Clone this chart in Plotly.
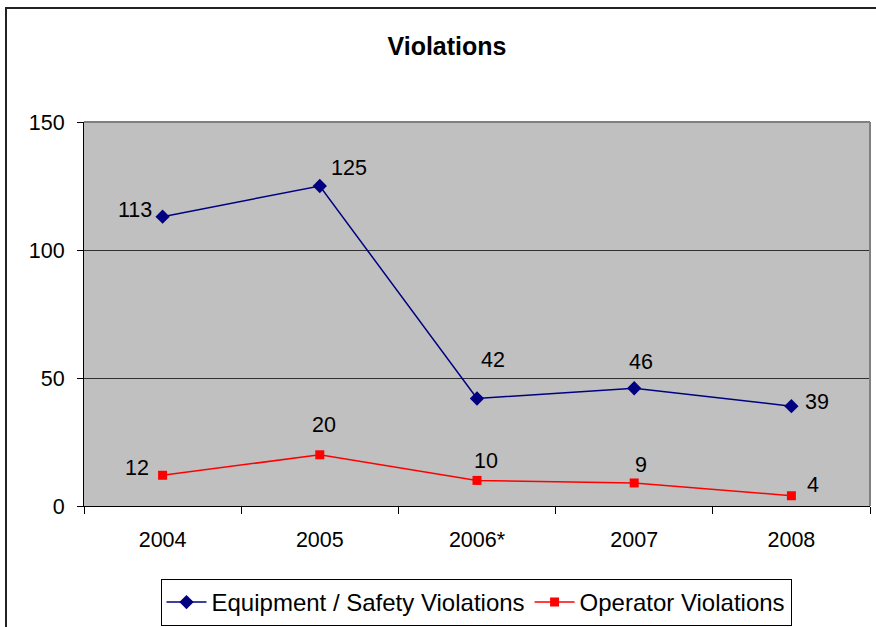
import plotly.graph_objects as go

# Chart data
years = ["2004", "2005", "2006*", "2007", "2008"]
equipment = [113, 125, 42, 46, 39]
operator = [12, 20, 10, 9, 4]
y_ticks = [0, 50, 100, 150]

# Per-point label offsets in pixels (dx, dy)
equip_label_shift = [(-28, 7), (29, 18), (16, 38), (7, 26), (26, 4)]
oper_label_shift = [(-26, 7), (4, 30), (9, 19), (7, 18), (22, 11)]

font_family = "Liberation Sans, Arial, sans-serif"

fig = go.Figure()
fig.add_trace(go.Scatter(
    x=years, y=equipment, name="Equipment / Safety Violations",
    mode="lines+markers",
    line=dict(color="#000080", width=1.5),
    marker=dict(symbol="diamond", size=11, color="#000080"),
))
fig.add_trace(go.Scatter(
    x=years, y=operator, name="Operator Violations",
    mode="lines+markers",
    line=dict(color="#FF0000", width=1.5),
    marker=dict(symbol="square", size=9, color="#FF0000"),
))

annotations = []
for series, shifts in ((equipment, equip_label_shift), (operator, oper_label_shift)):
    for i, (v, (dx, dy)) in enumerate(zip(series, shifts)):
        annotations.append(dict(
            x=i, y=v, text=str(v), showarrow=False,
            xshift=dx, yshift=dy,
            font=dict(size=21.5, color="black", family=font_family),
        ))

fig.update_layout(
    width=876, height=627,
    margin=dict(l=84, r=6, t=122, b=121, autoexpand=False),
    paper_bgcolor="white",
    plot_bgcolor="#C0C0C0",
    font=dict(family=font_family, color="black"),
    title=dict(text="<b>Violations</b>", x=(447 - 84) / 786, xref="paper", xanchor="center",
               y=1 - 46 / 627, yanchor="middle",
               font=dict(size=25, color="black", family=font_family)),
    showlegend=True,
    legend=dict(
        orientation="h", xref="paper", yref="paper",
        x=(476 - 84) / 786, xanchor="center",
        y=(506 - 579) / 384, yanchor="top",
        bordercolor="black", borderwidth=1, bgcolor="white",
        font=dict(size=24, color="black", family=font_family),
        itemwidth=40,
    ),
    annotations=annotations,
    xaxis=dict(
        type="category", range=[-0.5, 4.5],
        tickson="boundaries", ticks="outside", ticklen=7, tickcolor="black",
        showline=True, linecolor="black", linewidth=1,
        showgrid=False, zeroline=False, automargin=False,
        ticklabelstandoff=14,
        tickfont=dict(size=21.5, color="black", family=font_family),
        fixedrange=True,
    ),
    yaxis=dict(
        range=[0, 150], tickvals=y_ticks,
        ticks="outside", ticklen=6, tickcolor="black",
        showline=True, linecolor="black", linewidth=1,
        showgrid=True, gridcolor="#303030", gridwidth=1,
        zeroline=False, automargin=False,
        ticklabelstandoff=8,
        tickfont=dict(size=21.5, color="black", family=font_family),
        fixedrange=True,
    ),
    shapes=[
        # plot area top and right edges
        dict(type="line", xref="paper", yref="paper", x0=0, x1=1, y0=1, y1=1,
             line=dict(color="#808080", width=2)),
        dict(type="line", xref="paper", yref="paper", x0=1, x1=1, y0=0, y1=1,
             line=dict(color="#808080", width=2)),
        # chart frame
        dict(type="rect", xref="paper", yref="paper",
             x0=(6 - 84) / 786, x1=(890 - 84) / 786,
             y0=(506 - 640) / 384, y1=(506 - 8) / 384,
             line=dict(color="#222222", width=2), layer="below"),
    ],
)

fig.write_html("out.html")
